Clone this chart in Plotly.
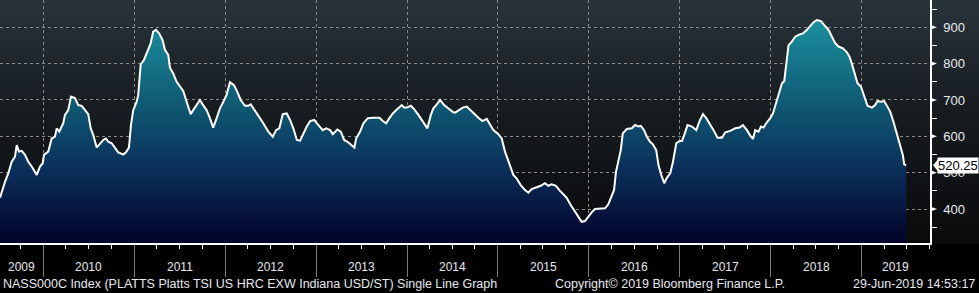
import plotly.graph_objects as go
import pandas as pd

# ---- data (decimal-year dates, USD/short ton) ----
dates_dec = [
    2009.524, 2009.554, 2009.579, 2009.615, 2009.653, 2009.689, 2009.708, 2009.733, 2009.763, 2009.799,
    2009.835, 2009.873, 2009.928, 2009.964, 2009.994,
    2010.008, 2010.055, 2010.093, 2010.129, 2010.148, 2010.176, 2010.220, 2010.239, 2010.275, 2010.305,
    2010.349, 2010.385, 2010.423, 2010.459, 2010.495, 2010.522, 2010.550, 2010.588, 2010.624, 2010.660,
    2010.690, 2010.715, 2010.753, 2010.789, 2010.825, 2010.880, 2010.910, 2010.943, 2010.965, 2010.990,
    2011.028, 2011.045, 2011.072, 2011.108, 2011.138, 2011.155, 2011.181, 2011.210, 2011.240, 2011.276,
    2011.313, 2011.339, 2011.375, 2011.394, 2011.430, 2011.468, 2011.504, 2011.540, 2011.578, 2011.622,
    2011.650, 2011.688, 2011.724, 2011.754, 2011.798, 2011.834, 2011.870, 2011.908, 2011.944, 2011.980,
    2012.017, 2012.054, 2012.098, 2012.134, 2012.172, 2012.219, 2012.255, 2012.282, 2012.329, 2012.365,
    2012.420, 2012.475, 2012.524, 2012.560, 2012.596, 2012.634, 2012.677, 2012.714, 2012.750, 2012.788,
    2012.824, 2012.860, 2012.897, 2012.934, 2012.978,
    2013.025, 2013.073, 2013.110, 2013.154, 2013.183, 2013.234, 2013.271, 2013.308, 2013.355, 2013.392,
    2013.421, 2013.440, 2013.484, 2013.520, 2013.568, 2013.630, 2013.696, 2013.734, 2013.770, 2013.806,
    2013.844, 2013.888, 2013.943, 2013.968, 2013.997,
    2014.042, 2014.078, 2014.125, 2014.174, 2014.224, 2014.262, 2014.290, 2014.328, 2014.364, 2014.408,
    2014.455, 2014.510, 2014.529, 2014.565, 2014.613, 2014.657, 2014.694, 2014.737, 2014.785, 2014.829,
    2014.877, 2014.914, 2014.950,
    2015.005, 2015.042, 2015.078, 2015.133, 2015.170, 2015.207, 2015.251, 2015.298, 2015.335, 2015.372,
    2015.427, 2015.471, 2015.518, 2015.555, 2015.592, 2015.639, 2015.676, 2015.720, 2015.757, 2015.801,
    2015.848, 2015.885, 2015.922, 2015.958, 2015.994,
    2016.032, 2016.068, 2016.123, 2016.178, 2016.214, 2016.252, 2016.277, 2016.299, 2016.324, 2016.351,
    2016.373, 2016.417, 2016.472, 2016.508, 2016.544, 2016.571, 2016.607, 2016.637, 2016.673, 2016.703,
    2016.740, 2016.765, 2016.795, 2016.828, 2016.857, 2016.894, 2016.924, 2016.960, 2016.996,
    2017.022, 2017.048, 2017.084, 2017.132, 2017.180, 2017.216, 2017.253, 2017.290, 2017.326, 2017.370,
    2017.414, 2017.463, 2017.499, 2017.554, 2017.609, 2017.656, 2017.693, 2017.738, 2017.774, 2017.804,
    2017.829, 2017.865, 2017.892, 2017.920, 2017.950, 2017.994,
    2018.024, 2018.060, 2018.096, 2018.123, 2018.148, 2018.170, 2018.195, 2018.233, 2018.269, 2018.305,
    2018.354, 2018.398, 2018.434, 2018.471, 2018.508, 2018.552, 2018.588, 2018.635, 2018.673, 2018.709,
    2018.745, 2018.794, 2018.838, 2018.866, 2018.892, 2018.929, 2018.954, 2018.992,
    2019.028, 2019.064, 2019.113, 2019.149, 2019.174, 2019.212, 2019.248, 2019.278, 2019.314, 2019.350,
    2019.387, 2019.424, 2019.453, 2019.468, 2019.490,
]
prices = [
    431, 457, 475, 498, 530, 544, 576, 558, 560, 549,
    530, 517, 494, 517, 526,
    549, 558, 594, 599, 622, 613, 636, 659, 672, 709,
    705, 686, 684, 671, 661, 622, 604, 569, 581, 590,
    594, 585, 581, 567, 556, 550, 556, 569, 631, 672,
    695, 714, 798, 810, 828, 838, 855, 888, 893, 883,
    865, 838, 824, 789, 773, 750, 737, 725, 695, 661,
    672, 686, 700, 688, 672, 650, 624, 650, 677, 694,
    714, 749, 741, 723, 700, 684, 684, 688, 672, 657,
    636, 613, 599, 617, 622, 661, 663, 645, 622, 590,
    588, 608, 627, 642, 645,
    631, 617, 622, 617, 606, 619, 613, 590, 583, 574,
    569, 594, 613, 636, 650, 651, 651, 642, 636, 650,
    663, 674, 686, 679, 679,
    684, 675, 659, 640, 622, 659, 677, 688, 700, 686,
    677, 666, 665, 672, 679, 682, 672, 663, 651, 642,
    648, 631, 617,
    606, 594, 558, 521, 494, 484, 466, 452, 445, 455,
    459, 464, 471, 464, 468, 464, 452, 440, 431, 411,
    393, 382, 365, 367, 379,
    391, 400, 402, 402, 413, 439, 452, 503, 530, 562,
    608, 620, 622, 631, 627, 629, 617, 599, 585, 578,
    562, 521, 494, 471, 486, 498, 530, 581, 587,
    587, 604, 631, 627, 617, 642, 661, 650, 636, 617,
    596, 596, 611, 615, 622, 624, 631, 617, 602, 593,
    617, 613, 627, 624, 636, 650,
    663, 694, 728, 746, 752, 796, 850, 861, 874, 879,
    883, 893, 902, 914, 920, 917, 906, 893, 874, 856,
    847, 842, 831, 819, 800, 764, 746, 737,
    709, 684, 679, 686, 697, 695, 697, 684, 668, 640,
    608, 581, 549, 523, 520.25,
]
year_labels = ["2009", "2010", "2011", "2012", "2013", "2014", "2015", "2016", "2017", "2018", "2019"]
y_ticks = [400, 500, 600, 700, 800, 900]
last_value = 520.25
title_text = "NASS000C Index (PLATTS Platts TSI US HRC EXW Indiana USD/ST) Single Line Graph"
copyright_text = "Copyright\u00a9 2019 Bloomberg Finance L.P."
stamp_text = "29-Jun-2019 14:53:17"

# ---- layout constants ----
W, H = 979, 293
ML, MR, MT, MB = 0, 49, 0, 50
PW, PH = W - ML - MR, H - MT - MB
X_START, X_END = 2009.524, 2019.752
Y_MIN, Y_MAX = 306.6, 975.0
FONT = "Liberation Sans"
TXT = "#e6e9ee"


def dec_to_date(t):
    y = int(t)
    s = pd.Timestamp(year=y, month=1, day=1)
    e = pd.Timestamp(year=y + 1, month=1, day=1)
    return s + (e - s) * (t - y)


xs = [dec_to_date(t) for t in dates_dec]
x0, x1 = dec_to_date(X_START), dec_to_date(X_END)

fig = go.Figure()
fig.add_trace(go.Scatter(
    x=xs, y=prices, mode="lines",
    line=dict(color="white", width=2),
    fill="tozeroy",
    fillgradient=dict(type="vertical", start=Y_MIN, stop=920,
                      colorscale=[[0, "#03022a"], [0.315, "#0a2d58"], [0.64, "#0f5c76"], [1, "#1a8f9d"]]),
    hoverinfo="skip", showlegend=False,
))

shapes = []
# background gradient bands (dark slate at top to near-black at the axis)
top_c, mid_c, bot_c = (40, 51, 60), (23, 28, 32), (9, 10, 11)
N = 81
for i in range(N):
    f = i / (N - 1)
    if f < 0.45:
        g = f / 0.45
        c = [round(top_c[k] + (mid_c[k] - top_c[k]) * g) for k in range(3)]
    else:
        g = (f - 0.45) / 0.55
        c = [round(mid_c[k] + (bot_c[k] - mid_c[k]) * g) for k in range(3)]
    shapes.append(dict(type="rect", xref="paper", yref="paper", layer="below",
                       x0=0, x1=W / PW, y0=1 - (i + 1) / N - 0.002, y1=1 - i / N,
                       fillcolor=f"rgb({c[0]},{c[1]},{c[2]})", line=dict(width=0)))
# triangular tick markers on the right axis
tri_w = 7 / PW
tri_h = 2.6 * (Y_MAX - Y_MIN) / PH
for v in y_ticks:
    shapes.append(dict(type="path", xref="paper", yref="y", layer="above",
                       path=f"M 1,{v - tri_h} L {1 + tri_w},{v} L 1,{v + tri_h} Z",
                       fillcolor="white", line=dict(width=0)))
# pointer of last-value tag
tag_h = 6 * (Y_MAX - Y_MIN) / PH
shapes.append(dict(type="path", xref="paper", yref="y", layer="above",
                   path=f"M {1 + 3 / PW},{last_value} L {1 + 8 / PW},{last_value + tag_h} "
                        f"L {1 + 8 / PW},{last_value - tag_h} Z",
                   fillcolor="white", line=dict(width=0)))

annotations = []
# year labels centred in the visible part of each year
for lab in year_labels:
    yr = int(lab)
    a = max(pd.Timestamp(year=yr, month=1, day=1), x0)
    b = min(pd.Timestamp(year=yr + 1, month=1, day=1), x1)
    annotations.append(dict(x=a + (b - a) / 2, y=0, xref="x", yref="paper", text=lab,
                            showarrow=False, xanchor="center", yanchor="middle", yshift=-23.5,
                            font=dict(family=FONT, size=12, color=TXT)))
annotations.append(dict(x=0, y=0, xref="paper", yref="paper", text=title_text, showarrow=False,
                        xanchor="left", yanchor="middle", xshift=1, yshift=-41,
                        font=dict(family=FONT, size=12.5, color=TXT)))
annotations.append(dict(x=553 / PW, y=0, xref="paper", yref="paper", text=copyright_text,
                        showarrow=False, xanchor="left", yanchor="middle", yshift=-41,
                        font=dict(family=FONT, size=12.5, color=TXT)))
annotations.append(dict(x=W / PW, y=0, xref="paper", yref="paper", text=stamp_text,
                        showarrow=False, xanchor="right", yanchor="middle", xshift=-2, yshift=-41,
                        font=dict(family=FONT, size=12.5, color=TXT)))
annotations.append(dict(x=1, y=last_value, xref="paper", yref="y", text=f"{last_value:.2f}",
                        showarrow=False, xanchor="left", yanchor="middle", xshift=7,
                        bgcolor="white", borderpad=0,
                        font=dict(family=FONT, size=13, color="black")))

fig.update_layout(
    width=W, height=H,
    margin=dict(l=ML, r=MR, t=MT, b=MB, pad=0),
    paper_bgcolor="black", plot_bgcolor="rgba(0,0,0,0)",
    shapes=shapes, annotations=annotations,
    xaxis=dict(
        type="date", range=[x0, x1], showticklabels=False,
        tick0="2010-01-01", dtick="M12",
        ticks="outside", ticklen=32, tickcolor="#7d7d7d", tickwidth=1,
        showgrid=True, gridcolor="#8a8a8a", gridwidth=1, griddash="3px,3px",
        showline=True, linecolor="white", linewidth=1.5,
        minor=dict(tick0="2010-01-01", dtick="M3", ticks="outside", ticklen=4,
                   tickcolor="white", tickwidth=1, showgrid=False),
        zeroline=False, fixedrange=True,
    ),
    yaxis=dict(
        side="right", range=[Y_MIN, Y_MAX], tickvals=y_ticks,
        ticks="", ticklabelstandoff=9,
        tickfont=dict(family=FONT, size=13, color=TXT),
        showgrid=True, gridcolor="#8a8a8a", gridwidth=1, griddash="3px,3px",
        showline=True, linecolor="white", linewidth=1.5,
        minor=dict(tick0=350, dtick=100, ticks="outside", ticklen=5, tickcolor="white",
                   tickwidth=1, showgrid=False),
        zeroline=False, fixedrange=True,
    ),
)

fig.write_html("out.html")
